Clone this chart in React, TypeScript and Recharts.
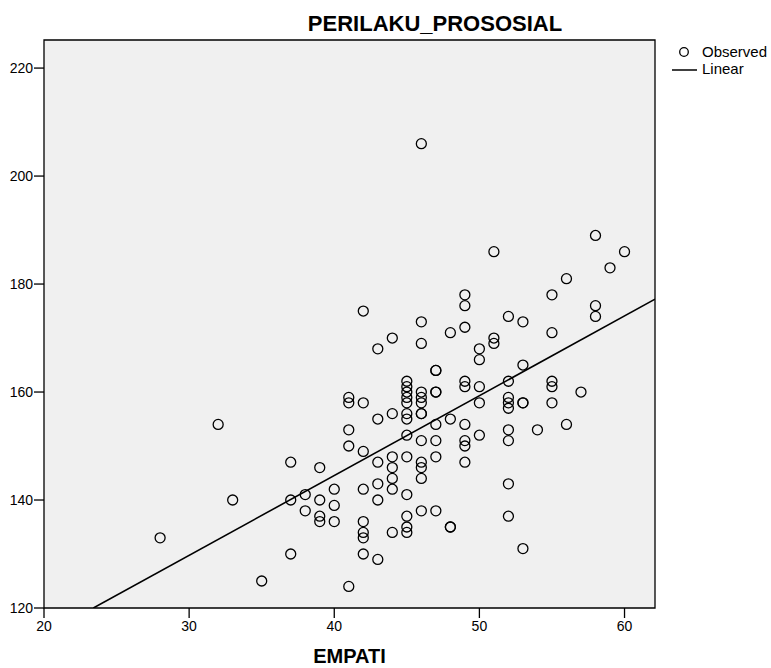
import React from "react";
import {
  ScatterChart,
  Scatter,
  XAxis,
  YAxis,
  ReferenceArea,
  ReferenceLine,
  Legend,
} from "recharts";

// EMPATI (x) values and PERILAKU_PROSOSIAL (y) values
const empati: number[] = [
  28, 32, 33, 35,
  37, 37, 37,
  38, 38,
  39, 39, 39, 39,
  40, 40, 40,
  41, 41, 41, 41, 41,
  42, 42, 42, 42, 42, 42, 42, 42,
  43, 43, 43, 43, 43, 43,
  44, 44, 44, 44, 44, 44, 44,
  45, 45, 45, 45, 45, 45, 45, 45, 45, 45, 45, 45, 45,
  46, 46, 46, 46, 46, 46, 46, 46, 46, 46, 46, 46, 46,
  47, 47, 47, 47, 47, 47, 47, 47,
  48, 48, 48, 48,
  49, 49, 49, 49, 49, 49, 49, 49, 49,
  50, 50, 50, 50, 50,
  51, 51, 51,
  52, 52, 52, 52, 52, 52, 52, 52, 52,
  53, 53, 53, 53, 53,
  54,
  55, 55, 55, 55, 55,
  56, 56,
  57,
  58, 58, 58,
  59,
  60,
];

const prosocial: number[] = [
  133, 154, 140, 125,
  147, 140, 130,
  141, 138,
  146, 140, 137, 136,
  142, 139, 136,
  159, 158, 153, 150, 124,
  175, 158, 149, 142, 136, 134, 133, 130,
  168, 155, 147, 143, 140, 129,
  170, 156, 148, 146, 144, 142, 134,
  162, 161, 160, 159, 158, 156, 155, 152, 148, 141, 137, 135, 134,
  206, 173, 169, 160, 159, 158, 156, 156, 151, 147, 146, 144, 138,
  164, 164, 160, 160, 154, 151, 148, 138,
  171, 155, 135, 135,
  178, 176, 172, 162, 161, 154, 151, 150, 147,
  168, 166, 161, 158, 152,
  186, 170, 169,
  174, 162, 159, 158, 157, 153, 151, 143, 137,
  173, 165, 158, 158, 131,
  153,
  178, 171, 162, 161, 158,
  181, 154,
  160,
  189, 176, 174,
  183,
  186,
];

// Fitted linear line end points
const lineStart = { x: 23.4, y: 120 };
const lineEnd = { x: 62.1, y: 177.2 };

const xTicks: number[] = [20, 30, 40, 50, 60];
const yTicks: number[] = [120, 140, 160, 180, 200, 220];
const xDomain: [number, number] = [20, 62.1];
const yDomain: [number, number] = [120, 225.2];

const points = empati.map((x, i) => ({ x, y: prosocial[i] }));

const font = "'Liberation Sans', Arial, sans-serif";

const Circle = (p: any) => (
  <circle cx={p.cx} cy={p.cy} r={5} fill="none" stroke="#000" strokeWidth={1.3} />
);

const renderLegend = () => (
  <svg width={99} height={40} style={{ display: "block", overflow: "visible" }}>
    <circle cx={12} cy={14} r={4.3} fill="none" stroke="#000" strokeWidth={1.3} />
    <text x={30} y={19} fontSize={15} fontFamily={font} fill="#000">
      Observed
    </text>
    <line x1={0} y1={32} x2={25} y2={32} stroke="#000" strokeWidth={1.5} />
    <text x={30} y={36} fontSize={15} fontFamily={font} fill="#000">
      Linear
    </text>
  </svg>
);

export default function App() {
  return (
    <div style={{ position: "absolute", left: 0, top: 0, width: 771, height: 668, background: "#fff" }}>
      <div
        style={{
          position: "absolute",
          left: 0,
          width: 870,
          top: 11,
          textAlign: "center",
          fontFamily: font,
          fontWeight: "bold",
          fontSize: 22,
          lineHeight: "26px",
          color: "#000",
        }}
      >
        PERILAKU_PROSOSIAL
      </div>
      <ScatterChart
        width={771}
        height={668}
        margin={{ top: 40, right: 116, bottom: 0, left: 0 }}
      >
        <XAxis
          type="number"
          dataKey="x"
          domain={xDomain}
          ticks={xTicks}
          allowDataOverflow
          height={60}
          axisLine={false}
          tickLine={{ stroke: "#000", strokeWidth: 1.3 }}
          tickSize={10}
          tickMargin={3}
          tick={{ fontSize: 14, fill: "#000", fontFamily: font }}
          label={{
            value: "EMPATI",
            position: "insideBottom",
            offset: 5,
            style: { fontSize: 20, fontWeight: "bold", fill: "#000", fontFamily: font },
          }}
        />
        <YAxis
          type="number"
          dataKey="y"
          domain={yDomain}
          ticks={yTicks}
          allowDataOverflow
          width={44}
          axisLine={false}
          tickLine={{ stroke: "#000", strokeWidth: 1.3 }}
          tickSize={10}
          tickMargin={1}
          tick={{ fontSize: 14, fill: "#000", fontFamily: font }}
        />
        <ReferenceArea
          x1={xDomain[0]}
          x2={xDomain[1]}
          y1={yDomain[0]}
          y2={yDomain[1]}
          fill="#f0f0f0"
          fillOpacity={1}
          stroke="#000"
          strokeWidth={1.3}
        />
        <ReferenceLine
          segment={[lineStart, lineEnd]}
          stroke="#000"
          strokeWidth={1.6}
          ifOverflow="hidden"
        />
        <Scatter
          name="Observed"
          data={points}
          shape={Circle}
          isAnimationActive={false}
        />
        <Legend
          layout="horizontal"
          align="center"
          verticalAlign="middle"
          content={renderLegend}
          wrapperStyle={{ position: "absolute", left: 672, top: 38, width: 99 }}
        />
      </ScatterChart>
    </div>
  );
}
